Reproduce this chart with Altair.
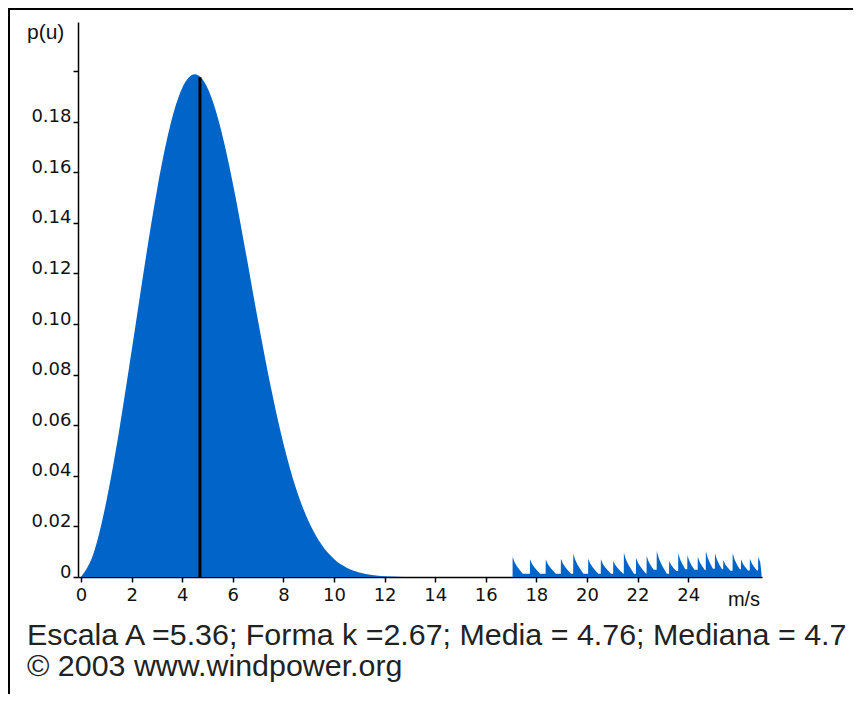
import altair as alt
import pandas as pd

# ---- data ----
speed = [0, 0.5, 1, 1.5, 2, 2.5, 3, 3.5, 4, 4.5, 5, 5.5, 6, 6.5, 7, 7.5, 8,
         8.5, 9, 9.5, 10, 10.5, 11, 11.5, 12, 12.5, 13]
density = [0, 0.0095, 0.0298, 0.0574, 0.0894, 0.1223, 0.1528, 0.1774, 0.1933,
           0.1987, 0.1933, 0.1781, 0.1557, 0.1290, 0.1012, 0.0752, 0.0528,
           0.0350, 0.0219, 0.0129, 0.0071, 0.0037, 0.0018, 0.0008, 0.0003,
           0.0001, 0]

# rendering artefact on the right side (small saw-tooth spikes)
spike_x = [17.06, 17.75, 18.37, 18.97, 19.46, 20.05, 20.55, 21.04, 21.46, 21.94,
           22.36, 22.76, 23.25, 23.61, 23.97, 24.38, 24.70, 25.06, 25.39, 25.76,
           26.09, 26.44, 26.77]
spike_h = [0.0079, 0.0070, 0.0070, 0.0072, 0.0092, 0.0072, 0.0070, 0.0063,
           0.0096, 0.0076, 0.0083, 0.0103, 0.0063, 0.0094, 0.0086, 0.0080,
           0.0103, 0.0094, 0.0067, 0.0094, 0.0070, 0.0072, 0.0080]
spike_floor = 0.0013
spike_end = 26.9
# shape of one tooth: offsets after the spike and share of its height
tooth_dx = [0.0, 0.08, 0.17, 0.28, 0.4]
tooth_frac = [1.0, 0.68, 0.45, 0.22, 0.0]

median = 4.7
median_top = 0.1976

x_ticks = list(range(0, 26))
y_ticks = [0, 0.02, 0.04, 0.06, 0.08, 0.10, 0.12, 0.14, 0.16, 0.18, 0.20]

caption1 = "Escala A =5.36; Forma k =2.67; Media = 4.76; Mediana = 4.7"
caption2 = "\u00a9 2003 www.windpower.org"

BLUE = "#0064C8"
FONT = "Liberation Sans"
TICKFONT = "DejaVu Sans"

# ---- tables ----
df_main = pd.DataFrame({"u": speed, "p": density})

rows = []
for i, (sx, sh) in enumerate(zip(spike_x, spike_h)):
    prev_end = rows[-1]["u"] if rows else None
    if i > 0 and prev_end is not None and prev_end < sx - 0.005:
        rows.append({"u": sx - 0.004, "p": rows[-1]["p"]})
    nxt = spike_x[i + 1] if i + 1 < len(spike_x) else spike_end
    for dx, fr in zip(tooth_dx, tooth_frac):
        xx = sx + dx
        if xx < nxt - 0.01:
            rows.append({"u": xx, "p": spike_floor + (sh - spike_floor) * fr})
rows.append({"u": spike_end, "p": spike_floor})
df_saw = pd.DataFrame(rows)

df_med = pd.DataFrame({"u": [median], "p0": [0], "p1": [median_top]})

xscale = alt.Scale(domain=[-0.12, 26.92], nice=False, zero=False)
yscale = alt.Scale(domain=[0, 0.2194], nice=False)

xaxis = alt.Axis(values=x_ticks, title=None, grid=False,
                 labelExpr="datum.value % 2 == 0 ? datum.label : ''",
                 labelOverlap=False, labelFlush=False, tickSize=5,
                 labelPadding=4)
yaxis = alt.Axis(values=y_ticks, title=None, grid=False,
                 labelExpr="datum.value == 0 ? '0' : (datum.value > 0.19 ? '' : format(datum.value, '.2f'))",
                 labelOverlap=False, labelFlush=False, tickSize=5,
                 labelPadding=2, labelBaseline="alphabetic")

main = alt.Chart(df_main).mark_area(color=BLUE, interpolate="monotone").encode(
    x=alt.X("u:Q", scale=xscale, axis=xaxis),
    y=alt.Y("p:Q", scale=yscale, axis=yaxis),
)

saw = alt.Chart(df_saw).mark_area(color=BLUE, interpolate="linear").encode(
    x=alt.X("u:Q"),
    y=alt.Y("p:Q"),
)

med = alt.Chart(df_med).mark_rule(color="black", strokeWidth=3).encode(
    x="u:Q", y="p0:Q", y2="p1:Q"
)

one = alt.Data(values=[{"a": 0}])

frame_left = alt.Chart(one).mark_rule(color="black", strokeWidth=2).encode(
    x=alt.value(-69), y=alt.value(-14), y2=alt.value(700))
frame_top = alt.Chart(one).mark_rule(color="black", strokeWidth=2).encode(
    x=alt.value(-70), x2=alt.value(780), y=alt.value(-13))

ytitle = alt.Chart(one).mark_text(text="p(u)", font=FONT, fontSize=21,
                                  align="left", baseline="alphabetic",
                                  color="#111").encode(
    x=alt.value(-51), y=alt.value(17))
unit = alt.Chart(one).mark_text(text="m/s", font=FONT, fontSize=20,
                                align="center", baseline="alphabetic",
                                color="#111").encode(
    x=alt.value(666), y=alt.value(584))
cap1 = alt.Chart(one).mark_text(text=caption1, font=FONT, fontSize=30.4,
                                align="left", baseline="alphabetic",
                                color="#222").encode(
    x=alt.value(-51), y=alt.value(623))
cap2 = alt.Chart(one).mark_text(text=caption2, font=FONT, fontSize=30.4,
                                align="left", baseline="alphabetic",
                                color="#222").encode(
    x=alt.value(-51), y=alt.value(654))

chart = alt.layer(main, saw, med, frame_left, frame_top, ytitle, unit, cap1, cap2).properties(
    width=684, height=555,
    autosize=alt.AutoSizeParams(type="none"),
    padding={"left": 70, "top": 14, "right": 91, "bottom": 117},
).configure_view(stroke=None).configure_axis(
    domainColor="black", domainWidth=1.5, tickColor="black", tickWidth=1.5,
    labelFont=TICKFONT, labelFontSize=18, labelColor="#111",
)

chart.save("out.html", embed_options={"renderer": "svg", "actions": False})
